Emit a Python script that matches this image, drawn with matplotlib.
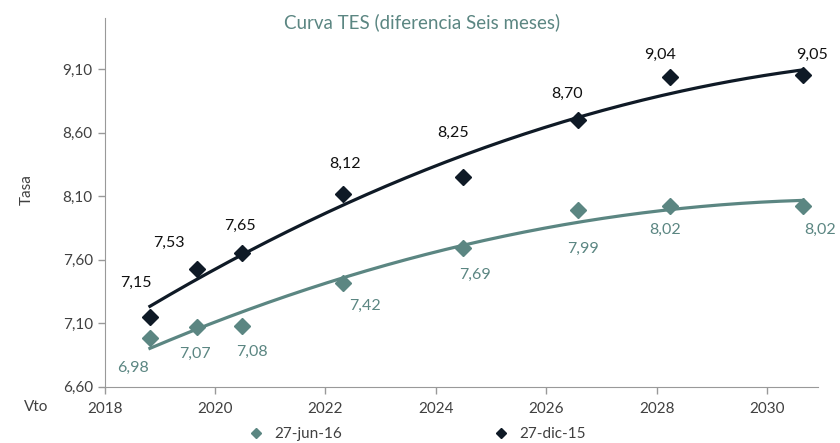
import numpy as np
import matplotlib.pyplot as plt

# fechas de vencimiento (anio decimal)
vto = [2018.82, 2019.67, 2020.49, 2022.32, 2024.50, 2026.58, 2028.25, 2030.66]
tasa_jun16 = [6.98, 7.07, 7.08, 7.42, 7.69, 7.99, 8.02, 8.02]
tasa_dic15 = [7.15, 7.53, 7.65, 8.12, 8.25, 8.70, 9.04, 9.05]
series_names = ['27-jun-16', '27-dic-15']
yticks = [6.60, 7.10, 7.60, 8.10, 8.60, 9.10]
xticks = [2018, 2020, 2022, 2024, 2026, 2028, 2030]

c_dic = '#0f1a26'
c_jun = '#5b8682'
c_txt = '#404040'

plt.rcParams['font.family'] = ['Lato', 'DejaVu Sans']

fig = plt.figure(figsize=(8.4, 4.43), dpi=100)
ax = fig.add_axes([0.1246, 0.1271, 0.8489, 0.8316])

# linea de tendencia polinomica (orden 2)
xs = np.linspace(vto[0], vto[-1], 200)
for y, c in [(tasa_dic15, c_dic), (tasa_jun16, c_jun)]:
    p = np.polyfit(vto, y, 2)
    ax.plot(xs, np.polyval(p, xs), color=c, lw=2.3, zorder=2)

ax.plot(vto, tasa_jun16, 'D', color=c_jun, ms=8, zorder=3, label=series_names[0])
ax.plot(vto, tasa_dic15, 'D', color=c_dic, ms=8.5, zorder=3, label=series_names[1])

# etiquetas (offset en pixeles)
off_dic = [(-14, 34), (-28, 26), (-2, 27), (2, 30), (-10, 44), (-11, 26), (-10, 22), (9, 21)]
off_jun = [(-17, -29), (-2, -27), (10, -26), (22, -23), (12, -27), (5, -39), (-5, -24), (17, -24)]
for x, y, o in zip(vto, tasa_dic15, off_dic):
    ax.annotate(f'{y:.2f}'.replace('.', ','), (x, y), xytext=o, textcoords='offset pixels',
                ha='center', va='center', fontsize=11.5, color='#111111')
for x, y, o in zip(vto, tasa_jun16, off_jun):
    ax.annotate(f'{y:.2f}'.replace('.', ','), (x, y), xytext=o, textcoords='offset pixels',
                ha='center', va='center', fontsize=11.5, color=c_jun)

ax.set_xlim(2018, 2030.92)
ax.set_ylim(6.6, 9.5)
ax.set_xticks(xticks)
ax.set_yticks(yticks)
ax.set_yticklabels([f'{v:.2f}'.replace('.', ',') for v in yticks])
ax.tick_params(colors='#999999', labelcolor=c_txt, labelsize=11, length=5, width=1)
ax.tick_params(axis='x', pad=6)
for s in ['top', 'right']:
    ax.spines[s].set_visible(False)
for s in ['left', 'bottom']:
    ax.spines[s].set_color('#999999')

fig.text(0.503, 0.950, 'Curva TES (diferencia Seis meses)', ha='center', va='center',
         fontsize=13.5, color=c_jun)
fig.text(0.032, 0.571, 'Tasa', rotation=90, ha='center', va='center', fontsize=11, color=c_txt)
fig.text(0.043, 0.081, 'Vto', ha='center', va='center', fontsize=11, color=c_txt)

ax.legend(loc='center', bbox_to_anchor=(0.437, -0.129), ncol=2, frameon=False,
          fontsize=11, markerscale=0.65, columnspacing=9.8, handletextpad=0.6,
          handlelength=1.2, labelcolor=c_txt)

fig.savefig('out.png', dpi=100)
